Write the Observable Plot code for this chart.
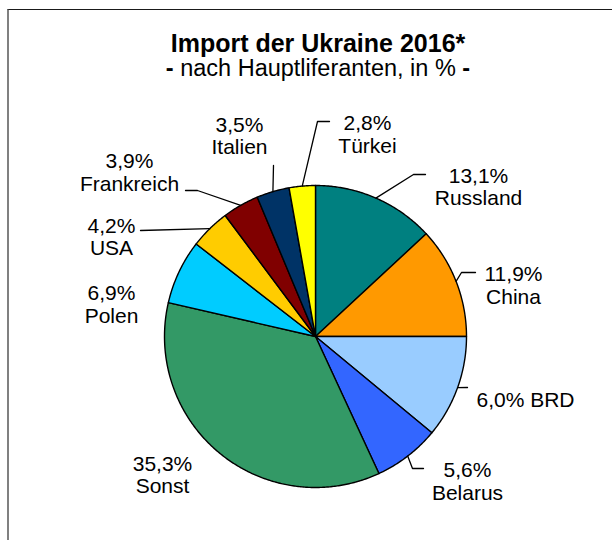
<!DOCTYPE html>
<html>
<head>
<meta charset="utf-8">
<script src="https://cdn.jsdelivr.net/npm/d3@7"></script>
<script src="https://cdn.jsdelivr.net/npm/@observablehq/plot@0.6"></script>
<style>
  body { margin: 0; background: #fff; }
  #wrap { position: relative; width: 612px; height: 540px; overflow: hidden; font-family: "Liberation Sans", Arial, sans-serif; color: #000; }
  #frame { position: absolute; left: 7px; top: 9px; width: 605px; height: 531px; box-sizing: border-box; border-top: 1px solid #1a1a1a; border-left: 2px solid #808080; }
  #title { position: absolute; left: 18px; width: 600px; top: 31px; text-align: center; font-size: 25px; font-weight: bold; line-height: 1; white-space: nowrap; }
  #subtitle { position: absolute; left: 18px; width: 600px; top: 57px; text-align: center; font-size: 23.5px; line-height: 1; white-space: nowrap; }
  #subtitle b { font-weight: bold; }
  #chart { position: absolute; left: 0; top: 0; }
</style>
</head>
<body>
<div id="wrap">
  <div id="frame"></div>
  <div id="chart"></div>
  <div id="title">Import der Ukraine 2016*</div>
  <div id="subtitle"><b>-</b> nach Hauptliferanten, in % <b>-</b></div>
</div>
<script>
// ---- data ----
const countries = ["Russland", "China", "BRD", "Belarus", "Sonst", "Polen", "USA", "Frankreich", "Italien", "Türkei"];
// percentages printed in the labels
const labelPercents = [13.1, 11.9, 6.0, 5.6, 35.3, 6.9, 4.2, 3.9, 3.5, 2.8];
// slice sizes as drawn in the pie (share of the full circle, %)
const sliceShares = [13.1, 11.9, 11.0, 7.1, 35.5, 6.9, 4.3, 3.9, 3.5, 2.8];
const sliceColors = ["#008080", "#FF9900", "#99CCFF", "#3366FF", "#339966", "#00CCFF", "#FFCC00", "#800000", "#003366", "#FFFF00"];

// ---- layout (pixels relative to the pie centre) ----
const R = 151;
const labelOffsets = [[163, -149.5], [198, -51], [210, 63.5], [152, 145], [-153, 138.5], [-204, -32], [-204, -99.5], [-186, -164], [-76, -200.5], [52, -202]];
const singleLine = [false, false, true, false, false, false, false, false, false, false];
// leader lines: [elbow, end] (elbow may be null), null = no leader
const leaderPaths = [
  [[98, -162], [110, -162]],
  [[146, -64], [160, -64]],
  [null, [152, 51]],
  [[97, 132], [108, 132]],
  null,
  null,
  [null, [-175, -106]],
  [[-118, -146], [-130, -146]],
  [null, [-42, -171]],
  [[2, -215], [14, -215]]
];

const arcs = d3.pie().sort(null).value(d => d)(sliceShares);
const polar = (a, r) => [r * Math.sin(a), -r * Math.cos(a)];

const slices = arcs.map((a, i) => {
  const n = Math.max(2, Math.ceil((a.endAngle - a.startAngle) / (Math.PI / 360)));
  const ring = [[0, 0]];
  for (let k = 0; k <= n; k++) ring.push(polar(a.startAngle + (a.endAngle - a.startAngle) * k / n, R));
  ring.push([0, 0]);
  return { type: "Feature", properties: { name: countries[i], color: sliceColors[i] }, geometry: { type: "Polygon", coordinates: [ring] } };
});

const leaders = [];
arcs.forEach((a, i) => {
  const p = leaderPaths[i];
  if (!p) return;
  const mid = (a.startAngle + a.endAngle) / 2;
  const coords = [polar(mid, R)];
  if (p[0]) coords.push(p[0]);
  coords.push(p[1]);
  leaders.push({ type: "Feature", properties: {}, geometry: { type: "LineString", coordinates: coords } });
});

const fmt = v => v.toFixed(1).replace(".", ",") + "%";
const labels = countries.map((c, i) => ({
  x: labelOffsets[i][0],
  y: labelOffsets[i][1],
  text: singleLine[i] ? fmt(labelPercents[i]) + " " + c : fmt(labelPercents[i]) + "\n" + c
}));

const chart = Plot.plot({
  width: 612,
  height: 540,
  marginLeft: 164,
  marginRight: 146,
  marginTop: 185,
  marginBottom: 53,
  style: { fontFamily: "Liberation Sans, Arial, sans-serif", background: "transparent", overflow: "visible" },
  projection: { type: "identity", domain: { type: "MultiPoint", coordinates: [[-R, -R], [R, R]] }, clip: false },
  marks: [
    Plot.geo(slices, { fill: d => d.properties.color, stroke: "#000", strokeWidth: 1.4, strokeLinejoin: "round" }),
    Plot.geo(leaders, { stroke: "#000", strokeWidth: 1.3, fill: "none" }),
    Plot.text(labels, { x: "x", y: "y", text: "text", fontSize: 21, lineHeight: 1.07, fill: "#000", fontFamily: "Liberation Sans, Arial, sans-serif" })
  ]
});
document.getElementById("chart").appendChild(chart);
</script>
</body>
</html>
